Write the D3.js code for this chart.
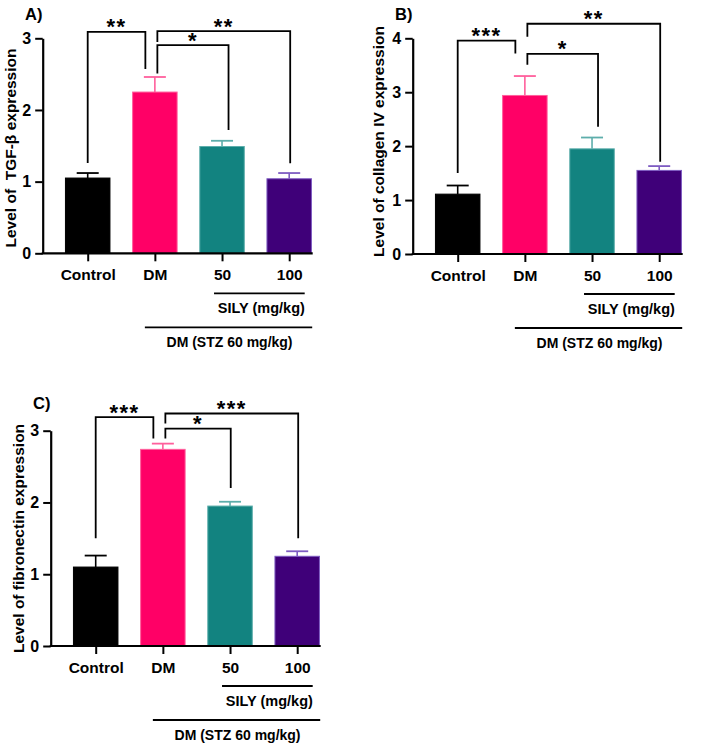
<!DOCTYPE html>
<html>
<head>
<meta charset="utf-8">
<script src="https://cdn.jsdelivr.net/npm/d3@7"></script>
<style>
  html, body { margin: 0; padding: 0; background: #fff; }
  svg { display: block; font-family: "Liberation Sans", Arial, sans-serif; font-weight: bold; }
</style>
</head>
<body>
<svg id="chart" width="708" height="744"></svg>
<script>
// ---------------- DATA ----------------
const categories = ["Control", "DM", "50", "100"];

const tgfMean = [1.05, 2.25, 1.49, 1.04];
const tgfSem  = [0.07, 0.21, 0.08, 0.08];

const colMean = [1.11, 2.94, 1.95, 1.55];
const colSem  = [0.16, 0.36, 0.21, 0.08];

const fibMean = [1.10, 2.74, 1.95, 1.25];
const fibSem  = [0.16, 0.08, 0.06, 0.07];

const tgfTicks = [0, 1, 2, 3];
const colTicks = [0, 1, 2, 3, 4];
const fibTicks = [0, 1, 2, 3];

// significance brackets: [from, to, label, top, fromLegBottom, toLegBottom] (data units)
const tgfBrackets = [
  ["Control", "DM", "**", 3.09, 1.26, 2.57],
  ["DM", "100", "**", 3.10, 2.95, 1.255],
  ["DM", "50", "*", 2.905, 2.51, 1.72]
];
const colBrackets = [
  ["Control", "DM", "***", 3.957, 1.50, 3.72],
  ["DM", "100", "**", 4.27, 4.03, 1.71],
  ["DM", "50", "*", 3.71, 3.51, 2.36]
];
const fibBrackets = [
  ["Control", "DM", "***", 3.19, 1.50, 2.89],
  ["DM", "100", "***", 3.24, 3.10, 1.50],
  ["DM", "50", "*", 3.03, 2.89, 2.20]
];

// ---------------- STYLE ----------------
const barFill   = ["#000000", "#FF0066", "#128380", "#3F0079"];
const barEdge   = ["#000000", "#FF5F9C", "#5DAEAB", "#7E5CC2"];

const svg = d3.select("#chart");

function drawPanel(cfg) {
  const g = svg.append("g");
  const x0 = cfg.axisX;
  const x = d3.scalePoint().domain(categories).range([x0 + 45, x0 + 246.5]);
  const y = d3.scaleLinear().domain([0, cfg.yMax]).range([cfg.y0, cfg.yTop]);
  const bw = 44.5;

  // bars
  g.selectAll("rect.bar").data(cfg.mean).join("rect")
    .attr("x", (d, i) => x(categories[i]) - bw / 2)
    .attr("y", d => y(d))
    .attr("width", bw)
    .attr("height", d => y(0) - y(d))
    .attr("fill", (d, i) => barFill[i])
    .attr("stroke", (d, i) => barEdge[i])
    .attr("stroke-width", 1);

  // error bars (upper only)
  cfg.mean.forEach((m, i) => {
    const cx = x(categories[i]);
    const top = y(m + cfg.sem[i]);
    g.append("line").attr("x1", cx).attr("x2", cx).attr("y1", y(m)).attr("y2", top)
      .attr("stroke", barEdge[i]).attr("stroke-width", 1.6);
    g.append("line").attr("x1", cx - 11).attr("x2", cx + 11).attr("y1", top).attr("y2", top)
      .attr("stroke", barEdge[i]).attr("stroke-width", 1.8);
  });

  // y axis
  const ya = g.append("g").attr("transform", `translate(${x0},0)`)
    .call(d3.axisLeft(y).tickValues(cfg.ticks).tickFormat(d3.format("d")).tickSize(7.5).tickSizeOuter(0).tickPadding(4));
  ya.select(".domain").attr("stroke-width", 2.2);
  ya.selectAll(".tick line").attr("stroke-width", 2);
  ya.selectAll(".tick text").attr("font-size", 16).attr("font-weight", "bold")
    .attr("font-family", "Liberation Sans, Arial, sans-serif").attr("fill", "#000");

  // x axis
  const xa = g.append("g").attr("transform", `translate(0,${cfg.y0})`)
    .call(d3.axisBottom(x).tickSize(8).tickPadding(7.5));
  xa.select(".domain").remove();
  xa.append("line").attr("x1", x0 - 1).attr("x2", x0 + 270).attr("y1", 0).attr("y2", 0)
    .attr("stroke", "#000").attr("stroke-width", 2.2);
  xa.selectAll(".tick line").attr("stroke-width", 2);
  xa.selectAll(".tick text").attr("font-size", 15.5).attr("font-weight", "bold")
    .attr("font-family", "Liberation Sans, Arial, sans-serif").attr("fill", "#000");

  // group lines
  const silyX1 = x("50") - 8, silyX2 = x("100") + 15.5;
  g.append("line").attr("x1", silyX1).attr("x2", silyX2).attr("y1", cfg.y0 + 40).attr("y2", cfg.y0 + 40)
    .attr("stroke", "#000").attr("stroke-width", 1.8);
  g.append("text").attr("x", (silyX1 + silyX2) / 2 + 2).attr("y", cfg.y0 + 59.5)
    .attr("text-anchor", "middle").attr("font-size", 14.5).text("SILY (mg/kg)");
  const dmX1 = x("DM") - 10, dmX2 = x("100") + 23;
  g.append("line").attr("x1", dmX1).attr("x2", dmX2).attr("y1", cfg.y0 + 74).attr("y2", cfg.y0 + 74)
    .attr("stroke", "#000").attr("stroke-width", 1.8);
  g.append("text").attr("x", (dmX1 + dmX2) / 2 + 1).attr("y", cfg.y0 + 94)
    .attr("text-anchor", "middle").attr("font-size", 14).text("DM (STZ 60 mg/kg)");

  // y label
  g.append("text")
    .attr("transform", `translate(${cfg.labelX},${cfg.labelY}) rotate(-90)`)
    .attr("text-anchor", "middle").attr("font-size", 15.5)
    .style("white-space", "pre")
    .text(cfg.yLabel);

  // panel letter
  g.append("text").attr("x", cfg.letterX).attr("y", cfg.letterY)
    .attr("font-size", 16.5).text(cfg.letter);

  // brackets
  cfg.brackets.forEach(b => {
    const [from, to, lab, top, fb, tb] = b;
    const fx = x(from) + (from === "DM" ? 2.5 : 0);
    let tx = x(to);
    if (to === "DM") tx -= 9.5;
    if (to === "50") tx += cfg.fiftyDx;
    if (to === "100") tx += 1;
    const ty = y(top);
    g.append("path")
      .attr("d", `M${fx},${y(fb)}V${ty}H${tx}V${y(tb)}`)
      .attr("fill", "none").attr("stroke", "#000").attr("stroke-width", 1.8);
    g.append("text").attr("x", (fx + tx) / 2).attr("y", ty + 2.5)
      .attr("text-anchor", "middle").attr("font-size", 22).attr("letter-spacing", 1.5)
      .text(lab);
  });
}

drawPanel({
  axisX: 42.7, y0: 253.3, yTop: 38.3, yMax: 3, ticks: tgfTicks,
  mean: tgfMean, sem: tgfSem, brackets: tgfBrackets, fiftyDx: 6.5,
  yLabel: "Level of  TGF-\u03b2 expression", labelX: 15.5, labelY: 148,
  letter: "A)", letterX: 25, letterY: 19.5
});
drawPanel({
  axisX: 412.7, y0: 254, yTop: 38.3, yMax: 4, ticks: colTicks,
  mean: colMean, sem: colSem, brackets: colBrackets, fiftyDx: 6,
  yLabel: "Level of collagen IV expression", labelX: 383.7, labelY: 141.5,
  letter: "B)", letterX: 395, letterY: 19.5
});
drawPanel({
  axisX: 50.7, y0: 646, yTop: 430.7, yMax: 3, ticks: fibTicks,
  mean: fibMean, sem: fibSem, brackets: fibBrackets, fiftyDx: 0.7,
  yLabel: "Level of fibronectin expression", labelX: 23.7, labelY: 538.5,
  letter: "C)", letterX: 33, letterY: 408.5
});
</script>
</body>
</html>
